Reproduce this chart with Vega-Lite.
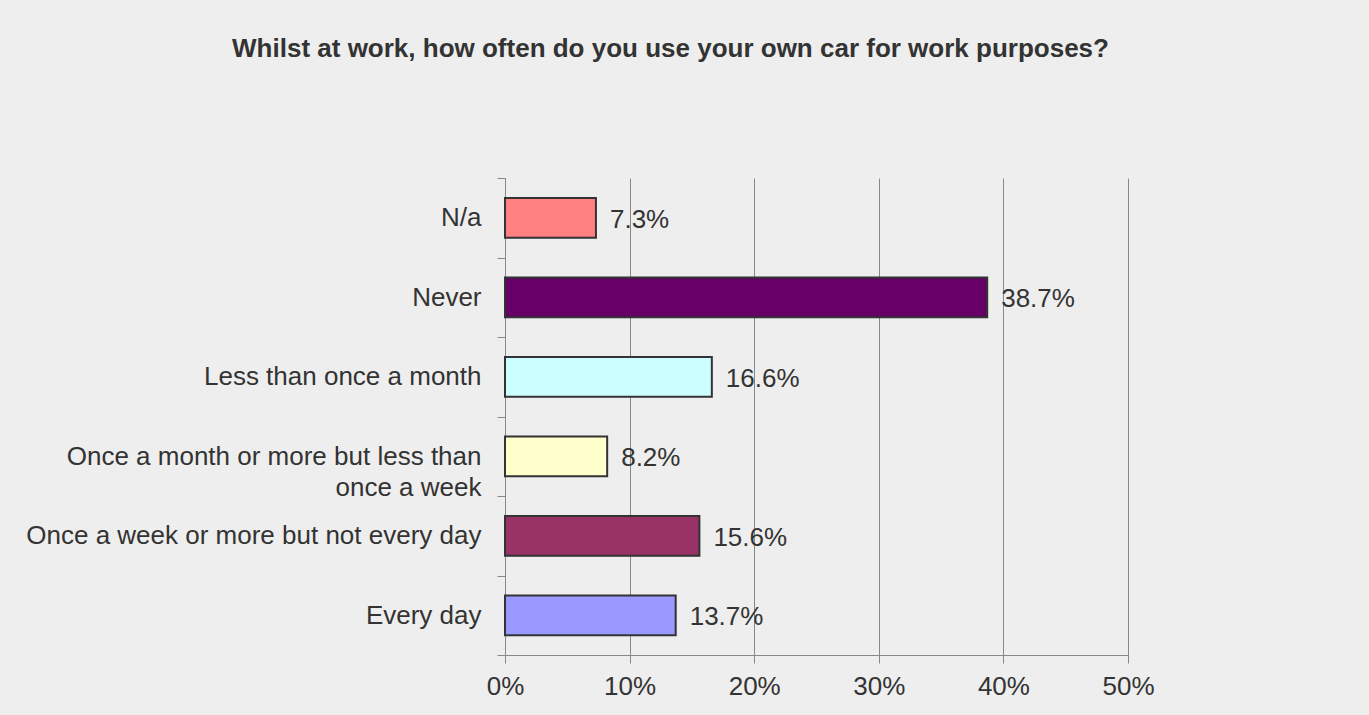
{
  "$schema": "https://vega.github.io/schema/vega-lite/v6.json",
  "width": 623,
  "height": 477,
  "autosize": {"type": "none"},
  "padding": {"left": 505, "top": 178, "right": 241, "bottom": 60},
  "background": "#eeeeee",
  "title": {
    "text": "Whilst at work, how often do you use your own car for work purposes?",
    "font": "Liberation Sans",
    "fontSize": 26,
    "fontWeight": "bold",
    "color": "#333333",
    "anchor": "middle",
    "baseline": "alphabetic",
    "offset": 82,
    "dx": -146
  },
  "config": {
    "view": {"stroke": null},
    "font": "Liberation Sans"
  },
  "data": {
    "values": [
      {"category": "N/a", "share": 0.073},
      {"category": "Never", "share": 0.387},
      {"category": "Less than once a month", "share": 0.166},
      {"category": "Once a month or more but less than|once a week\u00a0\u00a0\u00a0\u00a0\u00a0\u00a0\u00a0\u00a0\u00a0\u00a0\u00a0\u00a0\u00a0\u00a0\u00a0\u00a0\u00a0\u00a0\u00a0", "share": 0.082},
      {"category": "Once a week or more but not every day", "share": 0.156},
      {"category": "Every day", "share": 0.137}
    ]
  },
  "encoding": {
    "y": {
      "field": "category",
      "type": "nominal",
      "sort": null,
      "scale": {"paddingInner": 0, "paddingOuter": 0},
      "axis": {
        "title": null,
        "tickBand": "extent",
        "domainColor": "#888888",
        "tickColor": "#888888",
        "tickSize": 8,
        "labelFont": "Liberation Sans",
        "labelFontSize": 26,
        "labelColor": "#333333",
        "labelLimit": 600,
        "labelLineHeight": 31,
        "labelPadding": 16,
        "labelExpr": "split(datum.label, '|')"
      }
    },
    "x": {
      "field": "share",
      "type": "quantitative",
      "scale": {"domain": [0, 0.5], "nice": false},
      "axis": {
        "title": null,
        "format": "%",
        "values": [0, 0.1, 0.2, 0.3, 0.4, 0.5],
        "grid": true,
        "gridColor": "#888888",
        "gridWidth": 1,
        "domainColor": "#888888",
        "tickColor": "#888888",
        "tickSize": 8,
        "labelFont": "Liberation Sans",
        "labelFontSize": 26,
        "labelColor": "#333333",
        "labelPadding": 10,
        "labelFlush": false
      }
    }
  },
  "layer": [
    {
      "mark": {"type": "bar", "height": {"band": 0.5}, "stroke": "#333333", "strokeWidth": 2},
      "encoding": {
        "color": {
          "field": "category",
          "type": "nominal",
          "legend": null,
          "scale": {
            "range": ["#FF8080", "#660066", "#CCFFFF", "#FFFFCC", "#993366", "#9999FF"]
          },
          "sort": null
        }
      }
    },
    {
      "mark": {"type": "text", "align": "left", "baseline": "middle", "dx": 14, "dy": 2, "font": "Liberation Sans", "fontSize": 26, "color": "#333333"},
      "encoding": {
        "text": {"field": "share", "type": "quantitative", "format": ".1%"}
      }
    }
  ]
}
